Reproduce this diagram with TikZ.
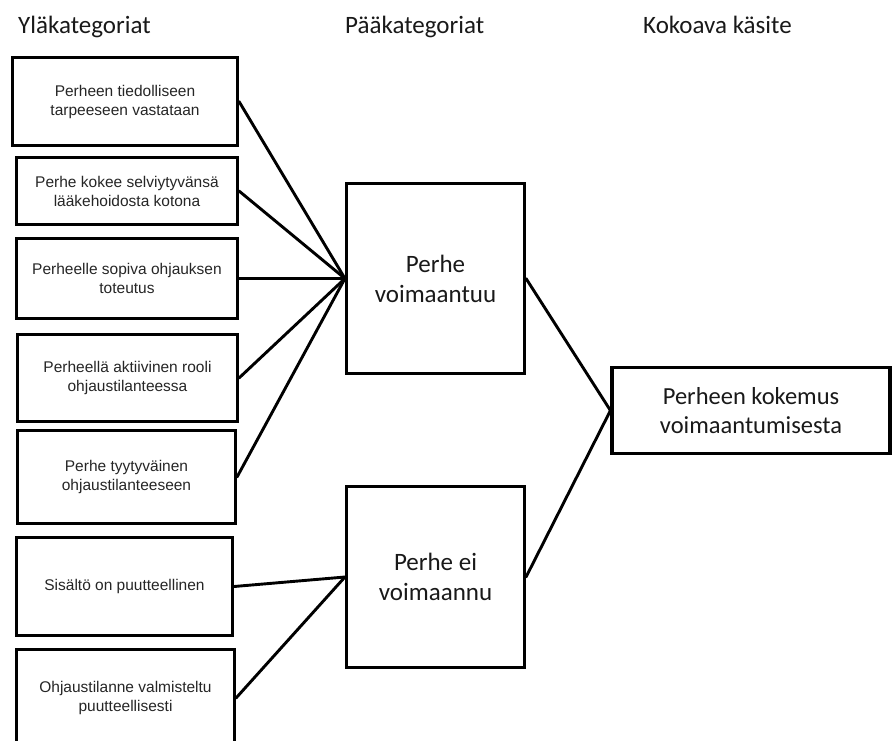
\documentclass[tikz,border=0pt]{standalone}
\usepackage{fontspec}
\setmainfont{Liberation Sans}
\newfontfamily\calfont{Carlito}
\begin{document}
\begin{tikzpicture}[x=1pt,y=-1pt,
  frame/.style={draw=black, line width=3.1pt, inner sep=0pt, align=center},
  subbox/.style={frame, font=\fontsize{15.5}{19}\selectfont, text=black!85},
  mainbox/.style={frame, font=\calfont\fontsize{25}{30}\selectfont, text=black!90},
  corebox/.style={frame, font=\calfont\fontsize{24.5}{29}\selectfont, text=black!90},
  heading/.style={anchor=base west, inner sep=0pt, font=\calfont\fontsize{25}{30}\selectfont, text=black!90},
  link/.style={draw=black, line width=2.9pt, line cap=round}
]
\useasboundingbox (0,0) rectangle (892,740);
\clip (0,0) rectangle (892,740);
\fill[white] (0,0) rectangle (892,740);

% column headings
\node[heading] (h1) at (18,33) {Yläkategoriat};
\node[heading] (h2) at (345,33) {Pääkategoriat};
\node[heading] (h3) at (643,33) {Kokoava käsite};

% upper categories
\node[subbox, minimum width=225pt, minimum height=88pt] (s1) at (125,101.5) {Perheen tiedolliseen\\tarpeeseen vastataan};
\node[subbox, minimum width=221pt, minimum height=67pt] (s2) at (127,191) {Perhe kokee selviytyvänsä\\lääkehoidosta kotona};
\node[subbox, minimum width=221pt, minimum height=80pt] (s3) at (127,278.5) {Perheelle sopiva ohjauksen\\toteutus};
\node[subbox, minimum width=220pt, minimum height=87pt] (s4) at (127.5,378) {Perheellä aktiivinen rooli\\ohjaustilanteessa};
\node[subbox, minimum width=218pt, minimum height=93pt] (s5) at (126.5,477) {Perhe tyytyväinen\\ohjaustilanteeseen};
\node[subbox, minimum width=216pt, minimum height=98pt] (s6) at (124.5,586.5) {Sisältö on puutteellinen};
\node[subbox, minimum width=218pt, minimum height=97pt] (s7) at (125.5,698) {Ohjaustilanne valmisteltu\\puutteellisesti};

% main categories
\node[mainbox, minimum width=178pt, minimum height=190pt] (m1) at (435.5,278.5) {Perhe\\voimaantuu};
\node[mainbox, minimum width=178pt, minimum height=181pt] (m2) at (435.5,577) {Perhe ei\\voimaannu};

% core concept
\node[corebox, minimum width=278pt, minimum height=86pt] (c) at (751,410.5) {Perheen kokemus\\voimaantumisesta};

% connectors
\foreach \s in {s1,s2,s3,s4,s5}
  \draw[link] (\s.east) -- (m1.west);
\foreach \s in {s6,s7}
  \draw[link] (\s.east) -- (m2.west);
\draw[link] (m1.east) -- (c.west);
\draw[link] (m2.east) -- (c.west);
\end{tikzpicture}
\end{document}
